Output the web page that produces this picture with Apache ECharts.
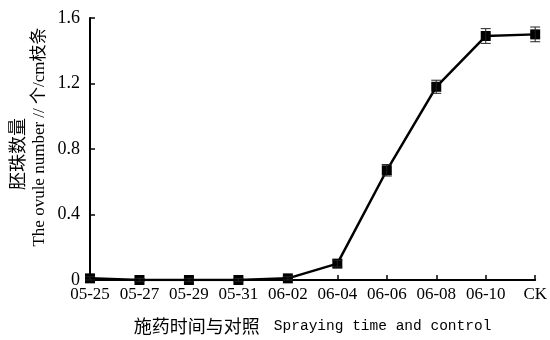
<!DOCTYPE html>
<html>
<head>
<meta charset="utf-8">
<script src="https://cdn.jsdelivr.net/npm/echarts@6/dist/echarts.min.js"></script>
<style>
  html, body { margin: 0; padding: 0; background: #fff; }
  #chart { width: 550px; height: 340px; }
</style>
</head>
<body>
<div id="chart"></div>
<script>
// Spraying dates plus the untreated control
const categories = ['05-25', '05-27', '05-29', '05-31', '06-02', '06-04', '06-06', '06-08', '06-10', 'CK'];
// Ovule number per cm of shoot
const ovuleNumber = [0.01, 0, 0, 0, 0.01, 0.10, 0.67, 1.18, 1.49, 1.50];
// Standard error of each mean
const stdError = [0.01, 0.01, 0.01, 0.01, 0.01, 0.02, 0.035, 0.04, 0.045, 0.045];
// Value-axis ticks
const yTicks = [0, 0.4, 0.8, 1.2, 1.6];

const serif = "'Liberation Serif', 'Noto Sans CJK SC', serif";

const errorData = categories.map((c, i) => [i, ovuleNumber[i] - stdError[i], ovuleNumber[i] + stdError[i]]);

const chart = echarts.init(document.getElementById('chart'), null, { renderer: 'canvas' });
chart.setOption({
  animation: false,
  backgroundColor: '#ffffff',
  grid: { left: 90, right: 10, top: 18, bottom: 57, containLabel: false },
  xAxis: {
    type: 'category',
    data: categories,
    boundaryGap: false,
    axisLine: { lineStyle: { color: '#000', width: 2 } },
    axisTick: { inside: true, length: 5, lineStyle: { color: '#000', width: 1.5 } },
    axisLabel: { color: '#000', fontFamily: serif, fontSize: 17, margin: 6, interval: 0 },
    name: '{cn|施药时间与对照}{en|Spraying time and control}',
    nameLocation: 'middle',
    nameGap: 37,
    nameTextStyle: {
      rich: {
        cn: { fontFamily: "'Noto Sans CJK SC', sans-serif", fontSize: 18, color: '#000', padding: [0, 14, 0, 0] },
        en: { fontFamily: "'Liberation Mono', monospace", fontSize: 14.5, color: '#000' }
      }
    }
  },
  yAxis: {
    type: 'value',
    min: yTicks[0],
    max: yTicks[yTicks.length - 1],
    interval: yTicks[1] - yTicks[0],
    splitLine: { show: false },
    axisLine: { show: true, lineStyle: { color: '#000', width: 2 } },
    axisTick: { show: true, inside: true, length: 5, lineStyle: { color: '#000', width: 1.5 } },
    axisLabel: {
      color: '#000', fontFamily: serif, fontSize: 18, margin: 10,
      formatter: v => (v === 0 ? '0' : v.toFixed(1))
    }
  },
  graphic: [
    {
      type: 'text', x: 17, y: 154, rotation: Math.PI / 2,
      style: {
        text: '胚珠数量', fill: '#000',
        font: "18px 'Noto Sans CJK SC', sans-serif",
        textAlign: 'center', textVerticalAlign: 'middle'
      }
    },
    {
      type: 'text', x: 40, y: 137, rotation: Math.PI / 2,
      style: {
        text: 'The ovule number // 个/cm枝条', fill: '#000',
        font: "17px 'Liberation Serif', 'Noto Sans CJK SC', serif",
        textAlign: 'center', textVerticalAlign: 'middle'
      }
    }
  ],
  series: [
    {
      type: 'line',
      data: ovuleNumber,
      symbol: 'rect',
      symbolSize: 10,
      itemStyle: { color: '#000' },
      lineStyle: { color: '#000', width: 2.5 },
      z: 3
    },
    {
      type: 'custom',
      data: errorData,
      z: 4,
      renderItem: function (params, api) {
        const x = api.value(0);
        const lo = api.coord([x, api.value(1)]);
        const hi = api.coord([x, api.value(2)]);
        const half = 5;
        const style = { stroke: '#222', lineWidth: 1 };
        return {
          type: 'group',
          children: [
            { type: 'line', shape: { x1: lo[0], y1: lo[1], x2: hi[0], y2: hi[1] }, style },
            { type: 'line', shape: { x1: lo[0] - half, y1: lo[1], x2: lo[0] + half, y2: lo[1] }, style },
            { type: 'line', shape: { x1: hi[0] - half, y1: hi[1], x2: hi[0] + half, y2: hi[1] }, style }
          ]
        };
      }
    }
  ]
});
</script>
</body>
</html>
